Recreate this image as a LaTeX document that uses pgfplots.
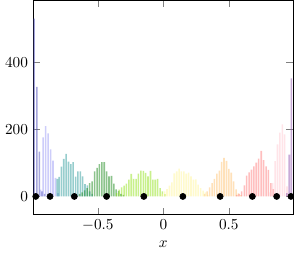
\documentclass[border=0pt]{standalone}
\usepackage{pgfplots}
\pgfplotsset{compat=1.18}
\definecolor{cA}{RGB}{75,75,185}
\definecolor{cB}{RGB}{155,155,245}
\definecolor{cC}{RGB}{45,155,155}
\definecolor{cD}{RGB}{25,135,25}
\definecolor{cE}{RGB}{145,225,25}
\definecolor{cF}{RGB}{255,245,155}
\definecolor{cG}{RGB}{255,195,115}
\definecolor{cH}{RGB}{255,125,125}
\definecolor{cI}{RGB}{255,201,209}
\definecolor{cJ}{RGB}{145,85,175}
\begin{document}
\begin{tikzpicture}
\begin{axis}[
  scale only axis, width=170pt, height=140pt,
  xmin=-0.992, xmax=0.989, ymin=-52.5, ymax=585,
  xtick={-0.5,0,0.5}, ytick={0,200,400},
  xlabel={$x$},
  every axis plot/.append style={ybar, bar width=0.012, bar shift=0pt, draw=none, fill opacity=0.5},
]
\addplot[fill=cA] coordinates {(-0.986,530) (-0.966,327) (-0.946,134) (-0.926,15) (-0.906,8)};
\addplot[fill=cB] coordinates {(-0.937,20) (-0.918,176) (-0.899,210) (-0.880,188) (-0.861,140) (-0.842,107) (-0.823,55) (-0.804,10)};
\addplot[fill=cC] coordinates {(-0.810,52) (-0.795,58) (-0.778,89) (-0.760,112) (-0.742,127) (-0.724,104) (-0.706,96) (-0.688,102) (-0.670,59) (-0.652,75) (-0.634,75) (-0.616,60) (-0.598,37) (-0.580,33) (-0.562,15) (-0.544,8)};
\addplot[fill=cD] coordinates {(-0.639,8) (-0.620,12) (-0.601,18) (-0.582,25) (-0.563,40) (-0.544,45) (-0.524,75) (-0.506,85) (-0.488,96) (-0.469,102) (-0.451,102) (-0.433,75) (-0.415,60) (-0.396,61) (-0.378,38) (-0.360,21) (-0.341,16) (-0.323,8) (-0.305,5)};
\addplot[fill=cE] coordinates {(-0.356,10) (-0.337,20) (-0.318,27) (-0.300,32) (-0.282,38) (-0.263,50) (-0.245,67) (-0.227,52) (-0.208,52) (-0.190,68) (-0.172,77) (-0.153,76) (-0.135,70) (-0.117,60) (-0.098,76) (-0.080,50) (-0.062,50) (-0.044,52) (-0.025,25) (-0.007,15) (0.011,7)};
\addplot[fill=cF] coordinates {(-0.009,8) (0.010,15) (0.028,22) (0.047,32) (0.065,42) (0.083,69) (0.102,75) (0.120,83) (0.138,75) (0.156,75) (0.175,68) (0.193,71) (0.211,60) (0.230,50) (0.248,51) (0.266,35) (0.285,25) (0.303,17) (0.321,12) (0.340,5)};
\addplot[fill=cG] coordinates {(0.315,8) (0.334,15) (0.353,27) (0.372,40) (0.390,52) (0.408,68) (0.427,77) (0.445,103) (0.463,115) (0.482,106) (0.500,82) (0.518,71) (0.537,45) (0.555,21) (0.573,9) (0.592,4)};
\addplot[fill=cH] coordinates {(0.560,5) (0.579,8) (0.598,15) (0.618,33) (0.636,62) (0.654,72) (0.673,80) (0.691,90) (0.709,101) (0.727,113) (0.747,136) (0.766,108) (0.784,90) (0.802,79) (0.821,40) (0.839,22)};
\addplot[fill=cI] coordinates {(0.815,12) (0.834,40) (0.853,105) (0.871,155) (0.889,190) (0.908,215) (0.926,185) (0.944,30)};
\addplot[fill=cJ] coordinates {(0.943,10) (0.961,125) (0.977,352)};
\addplot[only marks, mark=*, mark size=2pt, black, fill opacity=1] coordinates {(-0.9739,0) (-0.8650,0) (-0.6794,0) (-0.4334,0) (-0.1489,0) (0.1489,0) (0.4334,0) (0.6794,0) (0.8650,0) (0.9739,0)};
\end{axis}
\end{tikzpicture}
\end{document}
